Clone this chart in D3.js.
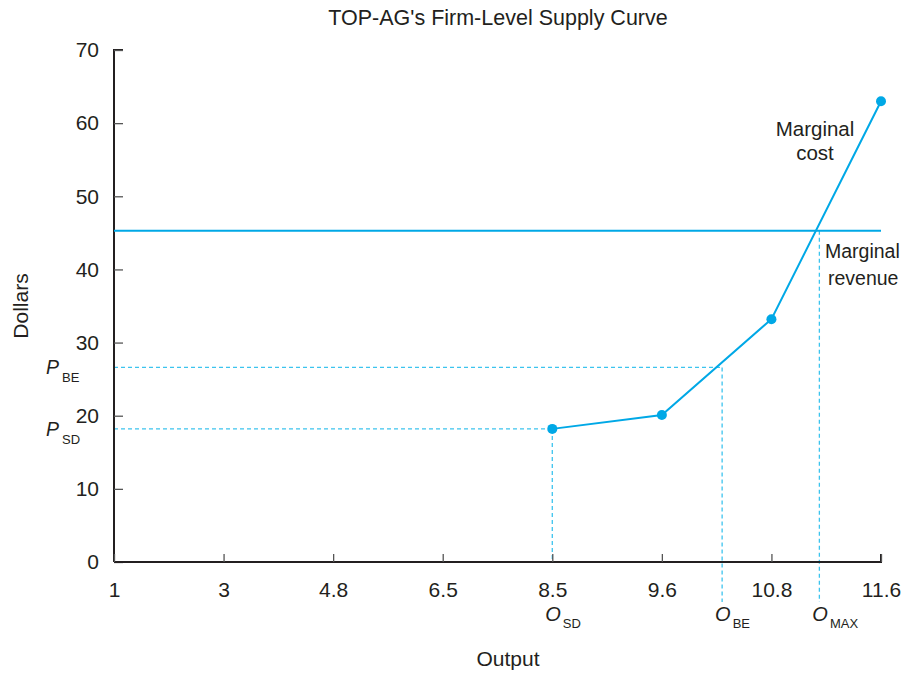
<!DOCTYPE html>
<html><head><meta charset="utf-8">
<script src="https://cdn.jsdelivr.net/npm/d3@7"></script>
<style>body{margin:0;background:#fff}svg{display:block}text{font-family:"Liberation Sans",Arial,sans-serif;fill:#231f20}</style>
</head><body>
<script>
const xTicks = [1, 3, 4.8, 6.5, 8.5, 9.6, 10.8, 11.6];
const yTicks = [0, 10, 20, 30, 40, 50, 60, 70];
const mcOutput = [8.5, 9.6, 10.8, 11.6];
const mcDollars = [18.2, 20.1, 33.2, 63];
const mrDollars = 45.3;
const priceLevels = [{label:"P", sub:"SD", value:18.2, out:8.5}, {label:"P", sub:"BE", value:26.6, out:10.26}];
const outputLevels = [{label:"O", sub:"SD", value:8.5, top:18.2, below:false}, {label:"O", sub:"BE", value:10.26, top:26.6, below:true}, {label:"O", sub:"MAX", value:11.15, top:45.3, below:true}];

const W=903,H=673, L=114, R=881, T=50, B=562;
const FONT="Liberation Sans, Arial, sans-serif";
const svg=d3.select("body").append("svg").attr("width",W).attr("height",H);
const x=d3.scaleLinear().domain(xTicks).range(xTicks.map((d,i)=>L+i*(R-L)/(xTicks.length-1)));
const y=d3.scaleLinear().domain([0,70]).range([B,T]);
const blue="#00a8e6", dash="#3cc4ee";

svg.append("text").attr("x",498).attr("y",25).attr("text-anchor","middle").attr("font-size",21.5).text("TOP-AG's Firm-Level Supply Curve");

// dashed guides
const g=svg.append("g").attr("stroke",dash).attr("stroke-width",1.3).attr("stroke-dasharray","4,3").attr("fill","none");
priceLevels.forEach(p=>g.append("line").attr("x1",L).attr("x2",x(p.out)).attr("y1",y(p.value)).attr("y2",y(p.value)));
outputLevels.forEach(o=>g.append("line").attr("x1",x(o.value)).attr("x2",x(o.value)).attr("y1",y(o.top)).attr("y2",o.below?B+40:B));

// axes
const yAxis=d3.axisLeft(y).tickValues(yTicks).tickSize(-9).tickPadding(15);
const ya=svg.append("g").attr("transform",`translate(${L},0)`).call(yAxis);
const xAxis=d3.axisBottom(x).tickValues(xTicks).tickSize(-8).tickPadding(20).tickFormat(d=>d);
const xa=svg.append("g").attr("transform",`translate(0,${B})`).call(xAxis);
[ya,xa].forEach(a=>{a.attr("font-size",21).attr("font-family",FONT);
 a.select(".domain").attr("stroke","#231f20").attr("stroke-width",2);
 a.selectAll(".tick line").attr("stroke","#555").attr("stroke-width",1.3);
 a.selectAll(".tick text").attr("fill","#231f20");});
ya.select(".domain").attr("d",`M9,${T}H0V${B}`);
xa.select(".domain").attr("d",`M${L},0H${R}V-8`);

// MR line
svg.append("line").attr("x1",L).attr("x2",R).attr("y1",y(mrDollars)).attr("y2",y(mrDollars)).attr("stroke",blue).attr("stroke-width",2);
// MC line
const pts=mcOutput.map((o,i)=>[o,mcDollars[i]]);
svg.append("path").attr("d",d3.line().x(d=>x(d[0])).y(d=>y(d[1]))(pts)).attr("fill","none").attr("stroke",blue).attr("stroke-width",2);
svg.selectAll("circle.p").data(pts).join("circle").attr("cx",d=>x(d[0])).attr("cy",d=>y(d[1])).attr("r",5).attr("fill",blue);

// labels
svg.append("text").attr("x",815).attr("y",136).attr("text-anchor","middle").attr("font-size",20.5).text("Marginal");
svg.append("text").attr("x",815).attr("y",160).attr("text-anchor","middle").attr("font-size",20.5).text("cost");
svg.append("text").attr("x",825).attr("y",258).attr("font-size",19.5).text("Marginal");
svg.append("text").attr("x",828).attr("y",285).attr("font-size",19.5).text("revenue");

svg.append("text").attr("transform","translate(28,306) rotate(-90)").attr("text-anchor","middle").attr("font-size",21).text("Dollars");
svg.append("text").attr("x",508).attr("y",666).attr("text-anchor","middle").attr("font-size",21).text("Output");

priceLevels.forEach(p=>{const t=svg.append("text").attr("x",46).attr("y",y(p.value)+7).attr("font-size",19.5);
 t.append("tspan").attr("font-style","italic").text(p.label);
 t.append("tspan").attr("font-size",13).attr("dx",3).attr("dy",8).text(p.sub);});
outputLevels.forEach(o=>{const t=svg.append("text").attr("x",x(o.value)-7).attr("y",621).attr("font-size",20);
 t.append("tspan").attr("font-style","italic").text(o.label);
 t.append("tspan").attr("font-size",13).attr("dx",2).attr("dy",7).text(o.sub);});
</script>
</body></html>
